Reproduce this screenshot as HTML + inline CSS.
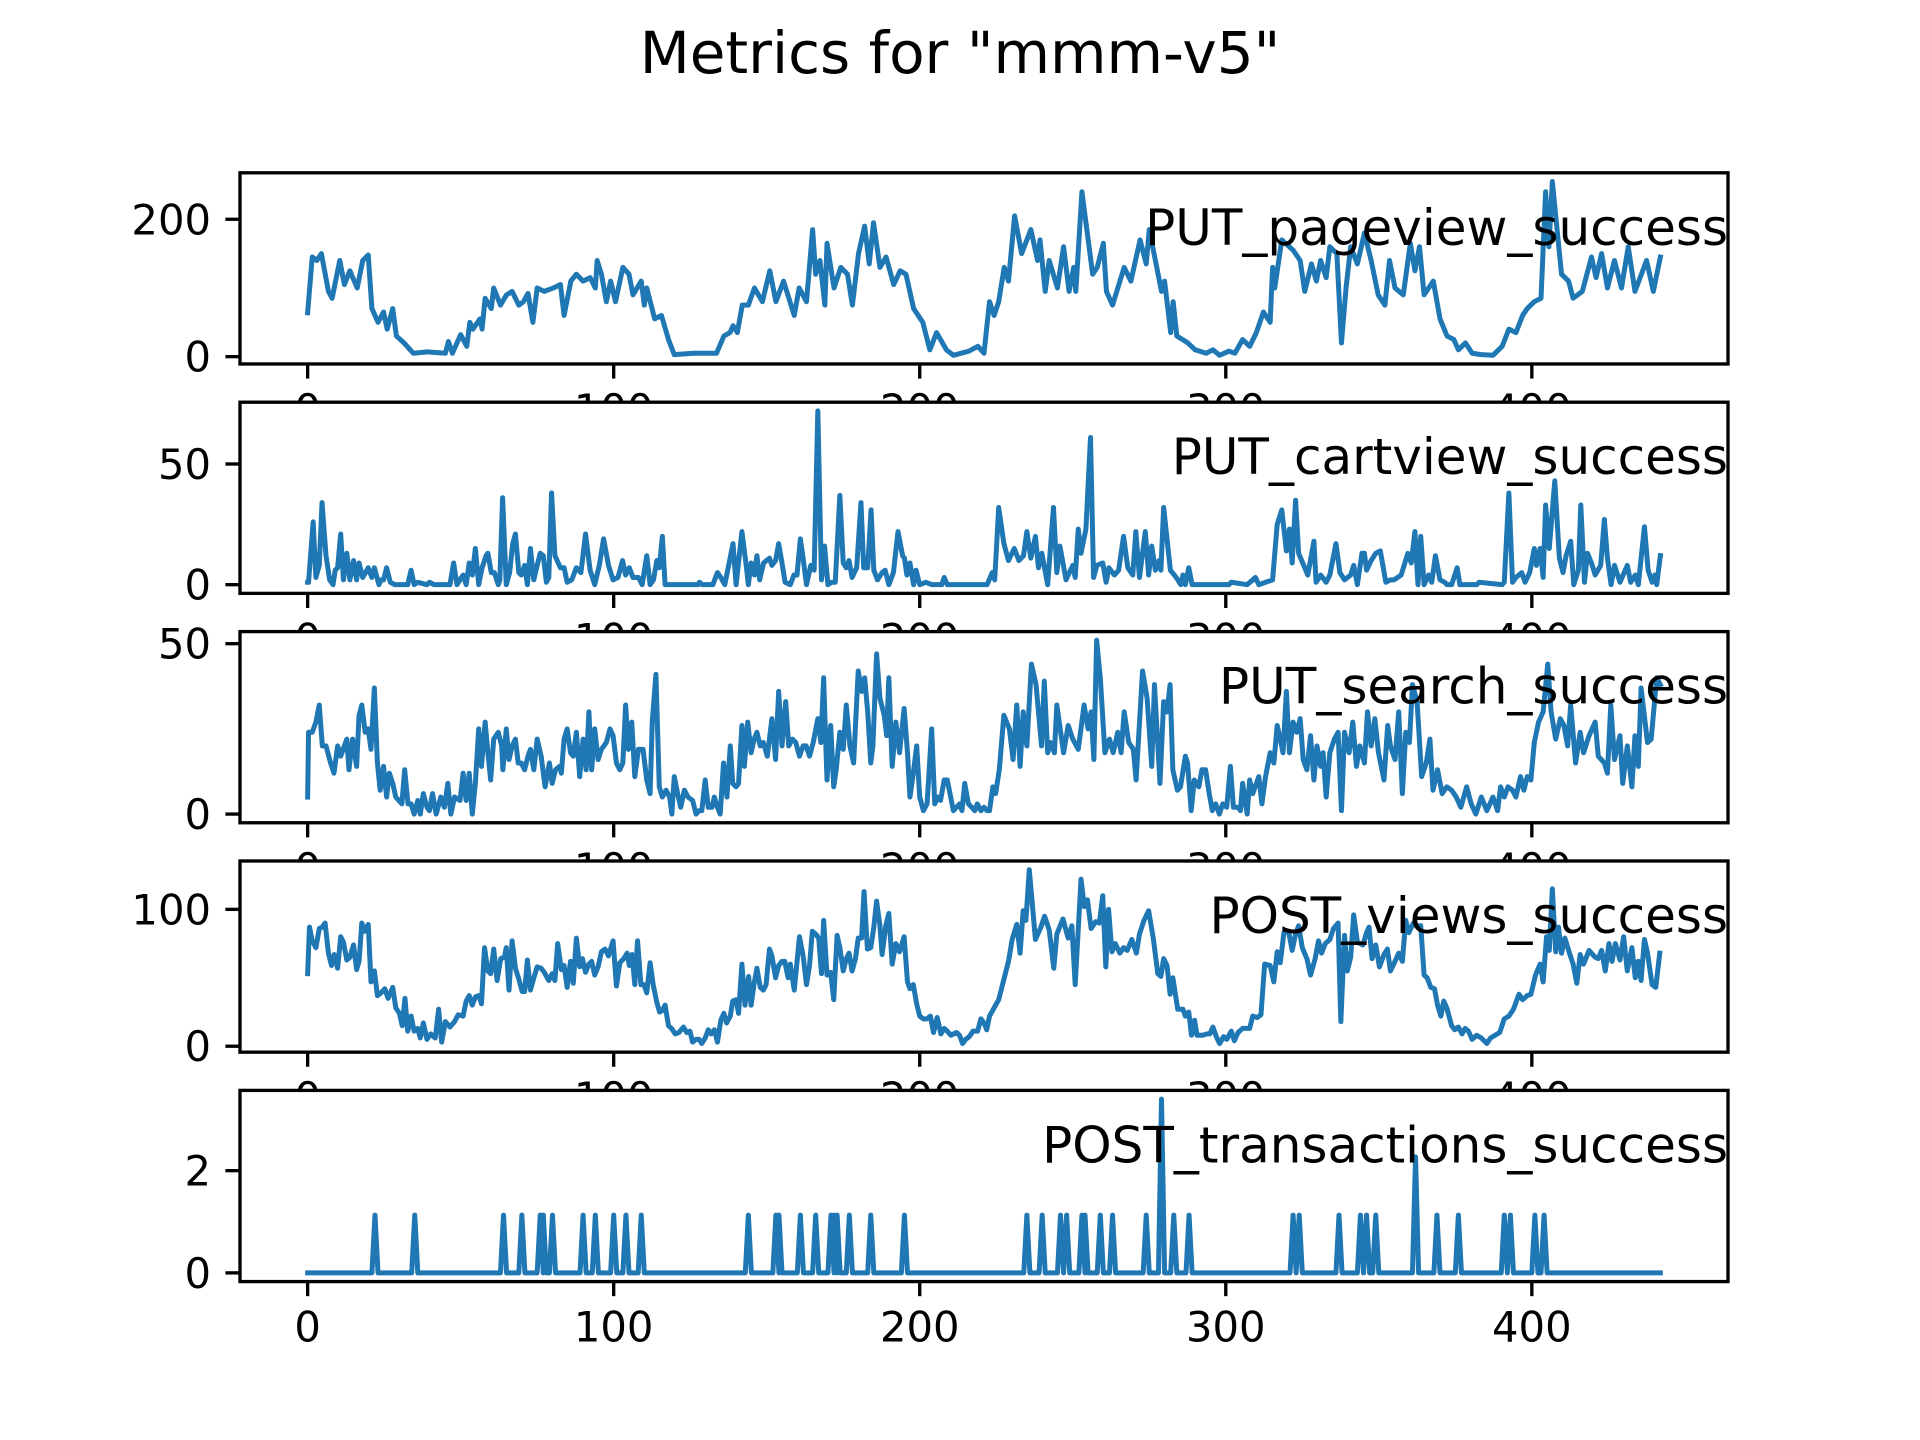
<!DOCTYPE html>
<html><head><meta charset="utf-8"><title>Metrics for "mmm-v5"</title>
<style>html,body{margin:0;padding:0;background:#fff}svg{display:block}text{font-family:"DejaVu Sans","Liberation Sans",sans-serif;fill:#000}</style>
</head><body>
<svg id="chart" width="1920" height="1440" viewBox="0 0 1920 1440" xmlns="http://www.w3.org/2000/svg">
<rect x="0" y="0" width="1920" height="1440" fill="#fff"/>
<text x="960" y="73" text-anchor="middle" font-size="58">Metrics for "mmm-v5"</text>
</svg>
<script>
// ---- data ----
const xTicks = [0, 100, 200, 300, 400];
const xTickLabels = ["0", "100", "200", "300", "400"];
const xDataMax = 442;

const panelNames = ["PUT_pageview_success", "PUT_cartview_success", "PUT_search_success", "POST_views_success", "POST_transactions_success"];
const yTicks1 = [0, 200];
const yTicks2 = [0, 50];
const yTicks3 = [0, 50];
const yTicks4 = [0, 100];
const yTicks5 = [0, 2];

const pageviewX = [0,1.5,3,4.5,6.8,8,10.5,12,13.8,16.2,18,19.8,21,23,24.8,26,27.8,29,31.5,34.5,39,45,46,47.3,50,52,53,54,56.3,57,58,60,60.8,63,65,66.8,69,70.5,72,73.6,75,77.3,80.3,82.6,83.8,86,87.8,90,92.3,94,94.6,96,97.6,99,100.6,103,105,106.3,109,110,110.8,113.4,115.6,117.9,119.8,126,133.6,136,138,139,140.4,142,144,146,148.6,151,153,155.5,159,160.6,163,165,166,167.4,169,169.7,172,174.2,176.4,178,180,182,183.5,184.9,187,189,191.5,193.6,195.5,198,201,203.3,205.5,208.7,211,216,219,221,222.8,224.3,225.8,
227.6,229,231,233.3,236.3,238.5,239.3,241,242.3,245,247,248.8,250.3,251,253,256.5,258,260,261,263,266.8,269,272,274,275,277,279,280,282,282.8,284,287.6,290,293.6,295.8,298,301,303,305.5,307.8,310,312.3,314.5,315.3,316,318.3,322,324.3,325.8,328,329.6,331,332.8,334,336.3,337.8,339.3,340.8,343,345.3,347.5,349.8,352,353.5,355.3,358,360.3,361.8,363.3,364.8,367.8,370,372.3,374.5,376,378.3,380.5,383.5,387.3,390.3,392.5,394.8,397,398.5,400.8,403,404.5,405.6,406.7,409.7,412,413.5,416.5,419.5,421,422.8,424.7,427,429.3,431.5,433.7,437.5,439.7,442];
const pageviewY = [64,145,140,150,95,85,140,105,125,100,140,148,70,50,65,40,70,30,20,5,7,5,22,5,32,15,50,40,55,40,85,70,100,75,90,95,75,80,92,50,100,95,100,105,60,110,120,110,115,100,140,120,80,110,80,130,120,90,110,75,100,55,60,25,3,5,5,30,35,45,35,75,75,100,80,125,80,110,60,100,80,185,120,140,75,165,100,130,120,75,150,190,135,195,130,145,105,125,120,70,50,10,35,10,2,8,15,5,80,60,80,
130,110,205,150,185,140,170,95,140,100,160,95,130,95,240,120,130,165,95,75,130,110,170,135,185,140,95,110,35,80,30,20,10,5,10,2,8,5,25,15,35,65,50,130,100,170,155,140,95,135,110,140,115,160,150,20,100,160,135,180,140,90,75,140,100,90,165,125,160,90,110,55,30,25,10,20,5,3,2,15,40,35,60,70,80,85,240,160,255,120,110,85,95,145,115,150,100,140,100,160,95,140,95,145];

const cartviewX = [0,0.3,1.8,2.7,3.8,4.7,6,7.2,8.3,9,9.8,10.8,11.7,12.8,13.8,15,16,16.8,18,19.8,21,21.8,23.3,24,24.8,25.8,27,28.5,32.7,33.8,34.8,36,39,39.8,41.3,46.5,47.7,48.8,50.8,51.8,52.8,53.8,54.8,55.9,57,58.3,58.9,60,61,62.3,62.8,63.7,64.9,66,67,67.9,69,69.8,70.9,71.8,72.8,73.9,75,76,77,78,78.8,79.7,80.8,82.6,83.8,84.8,86.3,87.8,89.3,90.8,92.3,93.8,95.3,96.7,98.3,99.8,101.4,102.9,103.9,105.1,106.3,108.1,109.3,110.8,111.9,113,114.1,114.9,115.9,116.8,127.6,128,129,132.4,133.9,135,136.3,139,140,141.9,143.4,144,144.9,146,146.8,147.7,149,150.9,151.7,152.9,153.9,155,156,157.7,158.9,159.9,161,162,163,164.4,165.5,166.7,167.9,168.9,170,171.2,172.4,173.9,175,176,176.9,177.9,179.4,180.8,181.7,183,184.1,185,186.2,187.7,188.7,189.9,191.4,192.9,194.4,195,195.8,196.8,198,198.8,200,202,204,207.2,208,209,222,223.7,224.5,225.8,
227.5,229,230.9,232.4,233.9,235,236.3,237.8,238.8,239.9,241.8,243.7,244.8,245.8,247.8,250,250.8,251.8,252.7,254.3,255.8,256.8,257.9,259.8,260.9,261.8,263.6,265,266.6,268,269.6,270.6,271.8,273.7,274.8,275.8,277,278.2,278.8,279.7,281.9,283.8,285.3,286,286.8,287.9,289,290.6,301,301.8,307,309.7,310.8,313,315.3,316.8,318.3,319.8,320.8,321.7,322.8,323.8,325.8,326.8,328.8,329.5,331,332.8,334,336,337.3,338.8,340.8,341.8,343,344.5,345.3,346,347.5,349,350.5,352.3,353.8,355,357.3,359.5,360.6,361.8,362.8,363.7,364.8,366.3,367.3,368.5,370,371.5,372.3,373.8,375.6,376.5,382,382.8,390.3,391,392.5,393.7,394.8,396.7,397.8,399.3,400.8,401.5,402.7,403.7,404.5,405.7,407.5,409,410.2,411.2,412.7,413.7,415.2,416,417.2,418.2,419.5,420.7,422.5,423.7,424.7,425.9,427,428.8,431.2,432.3,433.8,434.8,436.8,438,439.3,440.2,440.8,442];
const cartviewY = [1,1,26,3,8,34,12,2,0,6,7,21,2,13,2,10,2,9,3,7,3,7,0,2,2,7,1,0,0,6,0,1,0,1,0,0,9,0,4,0,9,4,15,0,7,12,13,5,5,0,2,36,0,5,17,21,5,4,8,0,15,2,8,13,12,1,3,38,12,7,7,1,2,7,5,21,6,0,8,19,8,2,3,10,4,7,3,3,0,12,0,2,10,7,20,0,0,1,0,0,5,3,0,17,0,22,7,0,9,4,12,2,9,11,8,10,17,9,1,0,4,4,19,10,0,8,6,72,2,16,0,1,1,37,9,7,10,3,7,34,7,7,31,6,2,5,6,0,5,22,12,11,4,9,0,6,0,1,0,0,3,0,0,5,2,32,
17,10,15,10,12,22,11,20,7,13,0,32,5,16,2,8,3,23,13,23,61,3,8,9,1,7,4,6,20,7,4,22,3,22,4,16,6,10,6,32,6,3,0,4,0,7,0,0,0,1,0,3,0,1,2,25,31,14,23,9,35,13,7,4,18,1,4,1,4,17,5,2,4,8,0,13,13,6,10,13,14,1,2,2,4,13,9,22,0,20,0,4,1,12,2,1,0,0,7,0,0,1,0,1,38,1,3,5,1,5,15,8,15,3,33,15,43,11,5,12,18,0,6,33,1,13,9,4,8,27,11,0,8,1,8,1,4,0,24,6,1,4,0,12];

const searchX = [0,0.3,1.5,2.7,3.8,4.8,6,7.5,8.6,9.8,10.8,12.8,13.5,14.7,16,16.8,17.7,18.8,19.8,20.7,21.8,22.8,23.7,24.8,25.8,26.7,27.8,28.8,30.8,31.7,32.8,33.8,34.8,36,36.8,37.8,39,39.8,40.8,42,43.5,44.7,45.8,46.8,48,49.8,50.8,51.8,52.8,53.8,54.8,55.9,56.8,58,58.9,59.8,60.8,62.3,63.4,63.8,64.9,65.8,66.8,67.9,68.8,69.8,70.9,72,72.8,73.9,75,76.3,77.6,79,79.9,81,82.3,82.9,83.8,84.8,85.9,86.8,87.8,88.9,90,91,91.9,92.8,93.8,94.9,96,97.6,98.8,99.8,100.9,102,103,103.9,104.8,105.9,106.9,108.1,109.6,110.8,111.9,112.6,113.8,114.9,115.9,117.1,118.3,119,119.8,120.9,121.9,123.1,124.3,125.8,126.9,127.9,128.8,129.9,130.9,132.1,132.9,133.9,134.8,135.9,137,138.1,138.9,140,140.8,141.9,142.7,143.8,144.9,145.9,146.8,147.9,148.9,150.2,151.7,152.9,153.9,155,156.2,157.2,158.4,159.5,160.7,161.9,162.9,164,165.2,166.7,167.7,168.6,169.7,170.9,171.9,172.7,173.9,175,176,177.2,178.4,179.9,181,182,183,184,184.7,185.9,187,188.4,189.2,189.9,191,192.2,193.4,194.9,196,196.8,197.9,199,200,201.2,202.4,203.9,204.9,205.9,206.8,208,209,211,213,213.8,214.7,215.9,217,218,218.8,220,221,222,222.8,223.9,224.8,
226,227.5,229.3,230.5,231.7,232.8,233.8,235,236.5,238,239.8,240.7,241.8,242.8,244,244.8,247,248.5,250,251.8,253.7,255,256,256.9,257.8,259,260.5,262,263.2,264.7,265.8,266.8,268.3,269.8,270.7,272.8,274.3,275.8,276.7,278.5,279.7,280.8,281.8,282.7,284.2,285.2,286.8,287.5,288.7,289.7,291.2,292.2,293.4,294.6,295.6,296.7,297.9,299,300.3,301.5,302.5,304,304.8,305.5,307,307.8,308.8,310.8,311.8,313,314.5,315.7,316.8,317.8,318.7,319.8,320.8,322,323.2,324.3,325.3,326.5,327.7,328.8,329.8,331,331.8,332.8,334,335.5,336.7,337.8,338.8,340.3,341.5,342.7,343.8,345.3,346.3,347.5,348.7,349.9,351.7,352.9,353.8,355.3,356.5,357.7,358.8,360,361,362.5,364,365.5,366.7,367.7,369.2,370.7,372.2,373.8,375.3,376.8,378.7,380.2,381.7,383.5,385.3,387.3,388.8,389.8,391,392.2,393.7,394.8,396.3,397.4,398.5,399.7,400.8,402.2,403.7,405.2,406.3,407.8,409.3,410.5,411.7,412.7,414.3,415.8,416.9,418.7,420.7,421.7,423.7,424.7,425.8,427,428.8,429.7,431.2,432.7,433.7,434.8,435.7,437.8,439,440.8,442];
const searchY = [5,24,24,27,32,20,20,15,12,20,17,22,13,22,14,29,32,24,25,19,37,15,7,14,5,12,9,5,3,13,3,3,0,4,0,6,2,1,6,0,5,2,9,0,5,4,12,4,12,0,9,25,14,27,18,10,22,24,20,13,25,16,20,22,15,15,13,17,19,13,22,17,8,15,9,13,14,12,22,25,18,17,24,11,22,13,30,13,25,16,19,21,25,23,15,13,15,32,19,27,11,19,19,10,6,27,41,8,5,7,5,0,11,6,2,7,5,4,0,1,1,10,2,2,5,2,0,15,5,20,9,8,9,26,14,27,18,22,24,20,21,17,28,16,36,20,33,20,22,21,17,20,20,17,21,28,21,40,10,26,8,13,24,19,32,20,15,42,36,40,30,15,20,47,34,29,23,40,14,27,18,31,18,5,12,20,5,1,3,25,3,5,4,10,10,1,3,1,9,3,2,1,3,1,2,1,1,8,6,
13,29,25,16,32,14,30,20,44,38,20,39,18,21,18,32,18,26,22,19,32,25,30,16,51,40,18,22,18,24,18,30,21,19,10,42,34,14,38,9,33,30,38,13,7,8,17,15,1,10,8,13,13,6,1,3,0,3,2,14,2,2,1,9,0,10,6,11,3,11,18,15,26,22,18,36,18,27,24,28,16,13,23,10,20,14,18,5,18,22,24,1,24,18,27,14,20,15,30,20,28,18,10,26,20,16,30,6,24,21,38,33,11,15,22,7,13,6,8,7,5,2,8,3,0,5,1,5,1,8,5,8,7,5,11,7,11,10,21,27,30,44,30,22,28,26,20,32,15,24,18,23,27,17,15,12,32,16,23,9,20,8,23,14,37,21,22,40,38];

const viewsX = [0,0.6,1.5,2.7,3.8,4.8,5.7,6.8,7.8,8.7,9.8,10.8,11.7,12.8,13.8,15,16,16.8,17.7,18.6,19.8,20.7,21.8,22.8,24,25.2,26.3,27.8,28.8,30,30.9,31.8,32.7,33.8,34.8,36,36.8,37.8,39,40.2,41.7,42.8,43.8,45,46.5,48,49.2,50.8,51.8,52.8,53.8,54.8,55.9,56.8,57.8,58.9,59.8,60.8,61.9,63.1,64.3,64.9,65.8,66.8,67.9,69,70.1,70.9,71.8,72.8,73.9,75,76.3,77.3,78.8,79.9,80.8,81.7,82.9,83.8,84.8,85.9,86.8,87.8,88.9,89.8,90.8,91.9,92.8,93.8,94.9,96,97.2,98.3,99.8,100.9,102,103.3,104.4,105.1,106,106.9,107.8,108.9,109.9,110.8,111.9,112.9,114.1,115,115.9,116.8,117.9,118.9,120.1,121.3,122.8,123.9,124.9,125.8,126.9,127.9,128.8,129.9,130.9,131.8,132.9,133.9,135,136,136.9,138.1,138.9,140,140.8,141.9,142.9,144.1,144.9,145.9,146.8,147.9,148.9,149.8,150.9,151.7,152.9,153.9,155,155.9,157,157.7,159,160.7,161.9,163,164,164.9,166,167,167.9,168.6,169.7,170.9,171.9,173,173.9,175,176,176.9,177.9,179,179.9,181,181.8,182.9,184,185,185.9,187,187.7,188.9,189.9,191,192.2,193.4,194.9,196,196.8,197.9,199,200,201.2,202.4,203.5,204.5,205.7,206.9,208,209,210.2,212,213,214,215,216.2,217.4,218.9,220,221,221.9,222.8,224.3,225.8,
229,230.2,231.7,232.8,233.8,234.7,235.8,237.8,239.6,240.8,242.3,243.8,244.8,246.8,248.5,249.7,250.8,252.7,253.8,254.8,256,257.5,258.7,259.8,260.8,261.7,262.8,263.9,265.4,266.6,267.8,269.3,270.8,271.8,273.3,274.8,276.3,277.8,278.8,279.7,280.8,281.8,282.7,284.3,286,286.8,287.9,288.8,289.8,290.6,292.4,293.9,294.8,295.8,296.9,298,299.3,300.3,301.8,302.8,304,305.5,307.8,308.8,310.3,311.5,312.7,314.5,315.7,316.8,317.8,319,320.5,321.7,322.8,323.8,325,326.5,327.7,329.2,330.3,331.3,332.5,334,335.2,336.7,337.6,338.8,339.7,340.8,341.8,343,344.8,346,346.8,347.8,349,350.2,351.7,352.8,353.8,355.3,356.5,357.7,358.8,359.8,361.3,362.5,363.7,364.8,365.8,367,368.2,369.2,370.3,371.2,372.2,373.8,374.8,376,377.2,378.2,379.3,380.5,382,383.5,385.3,386.5,388,389.5,391,392.5,394,395.8,397,398.5,399.7,401.2,402.7,403.7,404.8,405.7,406.7,407.8,408.7,409.7,410.8,412.3,413.5,414.7,415.8,416.9,418.7,420.7,421.7,422.8,424,425.2,426.2,427.3,428.8,430,431.2,432.7,433.8,434.8,435.7,436.8,437.8,439.3,440.5,441.8];
const viewsY = [53,87,77,72,86,87,90,68,59,67,57,80,76,63,65,74,56,62,90,84,89,47,55,37,39,42,35,43,28,24,15,35,11,22,11,13,6,17,5,9,6,27,3,18,14,18,23,22,33,37,30,36,37,31,72,55,53,71,48,64,65,72,41,77,57,49,40,40,63,41,50,58,57,54,48,53,48,75,56,59,43,62,46,79,58,64,54,60,62,52,58,69,71,66,77,44,61,64,68,59,67,45,77,45,45,39,61,45,32,25,26,30,15,13,9,10,14,10,11,3,5,5,2,6,12,9,12,3,19,24,17,22,33,34,24,60,30,51,30,46,57,43,41,45,71,66,50,59,62,62,50,60,41,80,66,45,59,84,82,79,53,92,52,54,34,81,72,55,64,68,55,64,79,79,113,71,72,87,106,88,67,88,97,60,75,69,80,47,42,45,31,22,20,20,22,10,21,9,13,11,8,10,8,2,5,7,11,11,20,17,12,22,28,34,
62,78,89,68,99,92,129,78,87,95,85,57,82,93,79,88,45,122,102,107,86,91,90,110,58,100,69,75,68,72,70,78,68,82,92,99,79,53,51,64,59,38,50,27,27,22,25,8,19,8,8,9,9,14,7,2,7,5,11,4,10,13,13,22,21,23,60,59,47,69,61,83,84,70,82,88,72,64,52,64,77,68,75,78,86,90,18,81,55,65,96,76,74,83,87,64,74,58,67,71,55,62,68,62,92,83,90,88,88,52,50,43,42,30,22,33,28,15,12,14,9,13,11,5,8,6,2,6,8,10,20,22,27,38,34,37,38,52,60,47,80,70,115,69,87,68,79,68,60,46,67,60,70,65,64,70,55,75,62,75,63,80,55,72,50,62,48,78,68,45,43,68];

const transactionSpikeX = [22,35,64,70,76,77,80,90,94,100,104,109,144,153,154,161,166,171,172,173,177,184,195,235,240,246,248,253,254,259,263,274,279,283,288,322,324,337,344,346,349,362,369,376,391,393,401,404];
const transactionSpikeY = [1.13,1.13,1.13,1.13,1.13,1.13,1.13,1.13,1.13,1.13,1.13,1.13,1.13,1.13,1.13,1.13,1.13,1.13,1.13,1.13,1.13,1.13,1.13,1.13,1.13,1.13,1.13,1.13,1.13,1.13,1.13,1.13,3.4,1.13,1.13,1.13,1.13,1.13,1.13,1.13,1.13,2.27,1.13,1.13,1.13,1.13,1.13,1.13];

// ---- layout ----
const SVGNS = "http://www.w3.org/2000/svg";
const svg = document.getElementById("chart");
const L = 240, R = 1728, TOP0 = 172.8, AH = 191.17, GAP = 38.23;
const XMIN = -0.05 * xDataMax, XMAX = xDataMax * 1.05;
function xPos(v) { return L + (v - XMIN) / (XMAX - XMIN) * (R - L); }

function mk(tag, attrs) {
  const el = document.createElementNS(SVGNS, tag);
  for (const k in attrs) el.setAttribute(k, attrs[k]);
  return el;
}

function buildTransactions() {
  const xs = [0], ys = [0];
  for (let i = 0; i < transactionSpikeX.length; i++) {
    const s = transactionSpikeX[i];
    if (xs[xs.length - 1] < s - 1) { xs.push(s - 1); ys.push(0); }
    xs.push(s); ys.push(transactionSpikeY[i]);
    xs.push(s + 1); ys.push(0);
  }
  xs.push(xDataMax); ys.push(0);
  return [xs, ys];
}

const tx = buildTransactions();
const panels = [
  { xs: pageviewX, ys: pageviewY, ticks: yTicks1 },
  { xs: cartviewX, ys: cartviewY, ticks: yTicks2 },
  { xs: searchX, ys: searchY, ticks: yTicks3 },
  { xs: viewsX, ys: viewsY, ticks: yTicks4 },
  { xs: tx[0], ys: tx[1], ticks: yTicks5 }
];

panels.forEach(function (p, i) {
  const top = TOP0 + i * (AH + GAP), bot = top + AH;
  const n = Math.min(p.xs.length, p.ys.length);
  let mn = Infinity, mx = -Infinity;
  for (let k = 0; k < n; k++) { mn = Math.min(mn, p.ys[k]); mx = Math.max(mx, p.ys[k]); }
  const pad = (mx - mn) * 0.05, ymin = mn - pad, ymax = mx + pad;
  const yPos = function (v) { return bot - (v - ymin) / (ymax - ymin) * AH; };

  const g = mk("g", {});
  
  
  svg.appendChild(g);

  const bg = mk("rect", { x: L, y: top, width: R - L, height: AH, fill: "#fff" });
  
  
  g.appendChild(bg);

  let d = "";
  for (let k = 0; k < n; k++) d += (k ? "L" : "M") + xPos(p.xs[k]).toFixed(2) + " " + yPos(p.ys[k]).toFixed(2);
  const line = mk("path", { d: d, fill: "none", stroke: "#1f77b4", "stroke-width": 5, "stroke-linejoin": "round", "stroke-linecap": "square" });
  
  
  g.appendChild(line);

  const lbl = mk("text", { x: R, y: top + 72, "text-anchor": "end", "font-size": 50 });
  
  
  lbl.textContent = panelNames[i];
  g.appendChild(lbl);

  const frame = mk("rect", { x: L, y: top, width: R - L, height: AH, fill: "none", stroke: "#000", "stroke-width": 3.33 });
  
  
  g.appendChild(frame);

  p.ticks.forEach(function (t) {
    const y = yPos(t);
    const tk = mk("line", { x1: L, x2: L - 14.6, y1: y, y2: y, stroke: "#000", "stroke-width": 3.33 });
    
    
    g.appendChild(tk);
    const tl = mk("text", { x: L - 29, y: y + 15, "text-anchor": "end", "font-size": 41.7 });
    
    
    tl.textContent = String(t);
    g.appendChild(tl);
  });

  xTicks.forEach(function (t, j) {
    const x = xPos(t);
    const tk = mk("line", { x1: x, x2: x, y1: bot, y2: bot + 14.6, stroke: "#000", "stroke-width": 3.33 });
    
    
    g.appendChild(tk);
    const tl = mk("text", { x: x, y: bot + 60, "text-anchor": "middle", "font-size": 41.7 });
    
    
    tl.textContent = xTickLabels[j];
    g.appendChild(tl);
  });
});
</script>
</body></html>
